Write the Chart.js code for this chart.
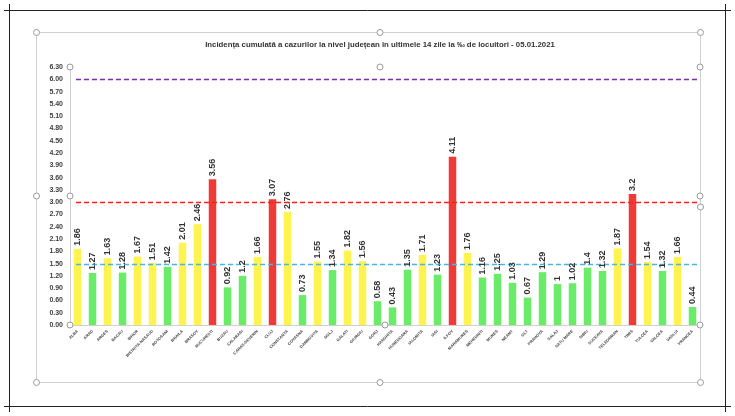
<!DOCTYPE html>
<html>
<head>
<meta charset="utf-8">
<script src="https://cdn.jsdelivr.net/npm/chart.js@4"></script>
<style>
  html, body { margin: 0; padding: 0; background: #fff; }
  #wrap { width: 735px; height: 416px; position: relative; }
</style>
</head>
<body>
<div id="wrap"><canvas id="chart"></canvas></div>
<script>
// Chart data
const titleText = 'Incidența cumulată a cazurilor la nivel județean în ultimele 14 zile la ‰ de locuitori - 05.01.2021';

const counties = ['ALBA', 'ARAD', 'ARGES', 'BACAU', 'BIHOR', 'BISTRITA-NASAUD', 'BOTOSANI', 'BRAILA', 'BRASOV',
    'BUCURESTI', 'BUZAU', 'CALARASI', 'CARAS-SEVERIN', 'CLUJ', 'CONSTANTA', 'COVASNA', 'DAMBOVITA', 'DOLJ',
    'GALATI', 'GIURGIU', 'GORJ', 'HARGHITA', 'HUNEDOARA', 'IALOMITA', 'IASI', 'ILFOV', 'MARAMURES', 'MEHEDINTI',
    'MURES', 'NEAMT', 'OLT', 'PRAHOVA', 'SALAJ', 'SATU MARE', 'SIBIU', 'SUCEAVA', 'TELEORMAN', 'TIMIS',
    'TULCEA', 'VALCEA', 'VASLUI', 'VRANCEA'];

const incidence = [1.86, 1.27, 1.63, 1.28, 1.67, 1.51, 1.42, 2.01, 2.46,
    3.56, 0.92, 1.2, 1.66, 3.07, 2.76, 0.73, 1.55, 1.34,
    1.82, 1.56, 0.58, 0.43, 1.35, 1.71, 1.23, 4.11, 1.76, 1.16,
    1.25, 1.03, 0.67, 1.29, 1, 1.02, 1.4, 1.32, 1.87, 3.2,
    1.54, 1.32, 1.66, 0.44];

const yTicks = [0, 0.3, 0.6, 0.9, 1.2, 1.5, 1.8, 2.1, 2.4, 2.7, 3.0, 3.3, 3.6, 3.9, 4.2, 4.5, 4.8, 5.1, 5.4, 5.7, 6.0, 6.3];

// Threshold lines (value, colour)
const thresholdValues = [1.5, 3.0, 6.0];
const thresholdColors = ['#4BB5E6', '#FF1F1F', '#7A2FA8'];

// Bar colour by scenario
function barColor(v) {
    if (v > 3) return '#EE3B35';
    if (v >= 1.5) return '#FFF34F';
    return '#6AEC68';
}

const FONT = "'Liberation Sans Narrow', 'Liberation Sans', Arial, sans-serif";

// Frame, title, handles, thresholds and value labels
const decorPlugin = {
    id: 'decor',
    beforeDraw(chart) {
        const ctx = chart.ctx;
        ctx.save();
        ctx.fillStyle = '#fff';
        ctx.fillRect(0, 0, chart.width, chart.height);
        // page frame with crop marks
        ctx.strokeStyle = '#222';
        ctx.lineWidth = 1;
        ctx.beginPath();
        ctx.moveTo(4, 10.5); ctx.lineTo(731, 10.5);
        ctx.moveTo(4, 406.5); ctx.lineTo(731, 406.5);
        ctx.moveTo(9.5, 4); ctx.lineTo(9.5, 412);
        ctx.moveTo(725.5, 4); ctx.lineTo(725.5, 412);
        ctx.stroke();
        // chart frame
        ctx.strokeStyle = '#D0D0D0';
        ctx.strokeRect(36.5, 32.5, 664, 350);
        // title
        ctx.fillStyle = '#333';
        ctx.font = 'bold 7.8px ' + FONT;
        ctx.textAlign = 'center';
        ctx.textBaseline = 'middle';
        ctx.fillText(titleText, 380, 45);
        ctx.restore();
    },
    afterDatasetsDraw(chart) {
        const ctx = chart.ctx;
        const area = chart.chartArea;
        const y = chart.scales.y;
        ctx.save();
        // dashed threshold lines
        ctx.lineWidth = 1.5;
        ctx.setLineDash([5, 3]);
        thresholdValues.forEach((v, i) => {
            const py = Math.round(y.getPixelForValue(v)) + 0.5;
            ctx.strokeStyle = thresholdColors[i];
            ctx.beginPath();
            ctx.moveTo(area.left + 6, py);
            ctx.lineTo(area.right, py);
            ctx.stroke();
        });
        ctx.setLineDash([]);
        // vertical value labels
        const meta = chart.getDatasetMeta(0);
        ctx.fillStyle = '#333';
        ctx.font = 'bold 9px ' + FONT;
        ctx.textAlign = 'left';
        ctx.textBaseline = 'middle';
        meta.data.forEach((bar, i) => {
            ctx.save();
            ctx.translate(bar.x, bar.y - 3);
            ctx.rotate(-Math.PI / 2);
            ctx.fillText(String(incidence[i]), 0, 0);
            ctx.restore();
        });
        // selection handles
        const handles = [
            [36.5, 32.5], [380, 32.5], [700.5, 32.5], [36.5, 196], [700.5, 207],
            [36.5, 382.5], [380, 382.5], [700.5, 382.5],
            [area.left, area.top], [380, area.top], [area.right, area.top],
            [area.left, (area.top + area.bottom) / 2], [area.right, (area.top + area.bottom) / 2],
            [area.left, area.bottom], [385, area.bottom], [area.right, area.bottom]
        ];
        ctx.strokeStyle = '#9A9A9A';
        ctx.fillStyle = '#fff';
        ctx.lineWidth = 1;
        handles.forEach(([hx, hy]) => {
            ctx.beginPath();
            ctx.arc(hx, hy, 3, 0, Math.PI * 2);
            ctx.fill();
            ctx.stroke();
        });
        ctx.restore();
    }
};

const ctx = document.getElementById('chart').getContext('2d');
new Chart(ctx, {
    type: 'bar',
    data: {
        labels: counties,
        datasets: [{
            data: incidence,
            backgroundColor: incidence.map(barColor),
            borderWidth: 0,
            barPercentage: 0.5,
            categoryPercentage: 1
        }]
    },
    options: {
        responsive: true,
        maintainAspectRatio: false,
        animation: false,
        layout: {
            padding: { left: 0, top: 67, right: 35, bottom: 0 }
        },
        scales: {
            x: {
                grid: { display: false, drawTicks: false },
                border: { color: '#D0D0D0', width: 1 },
                ticks: {
                    minRotation: 45,
                    maxRotation: 45,
                    autoSkip: false,
                    padding: 4,
                    color: '#444',
                    font: { family: FONT, size: 4, weight: 'bold' }
                },
                afterFit(scale) { scale.height = 91; }
            },
            y: {
                min: 0,
                max: 6.3,
                grid: { display: false, drawTicks: false },
                border: { color: '#D0D0D0', width: 1 },
                afterBuildTicks(scale) {
                    scale.ticks = yTicks.map(v => ({ value: v }));
                },
                ticks: {
                    padding: 7,
                    color: '#404040',
                    font: { family: FONT, size: 7, weight: 'bold' },
                    callback: v => Number(v).toFixed(2)
                },
                afterFit(scale) { scale.width = 70; }
            }
        },
        plugins: {
            legend: { display: false },
            title: { display: false },
            tooltip: { enabled: false }
        }
    },
    plugins: [decorPlugin]
});
</script>
</body>
</html>
